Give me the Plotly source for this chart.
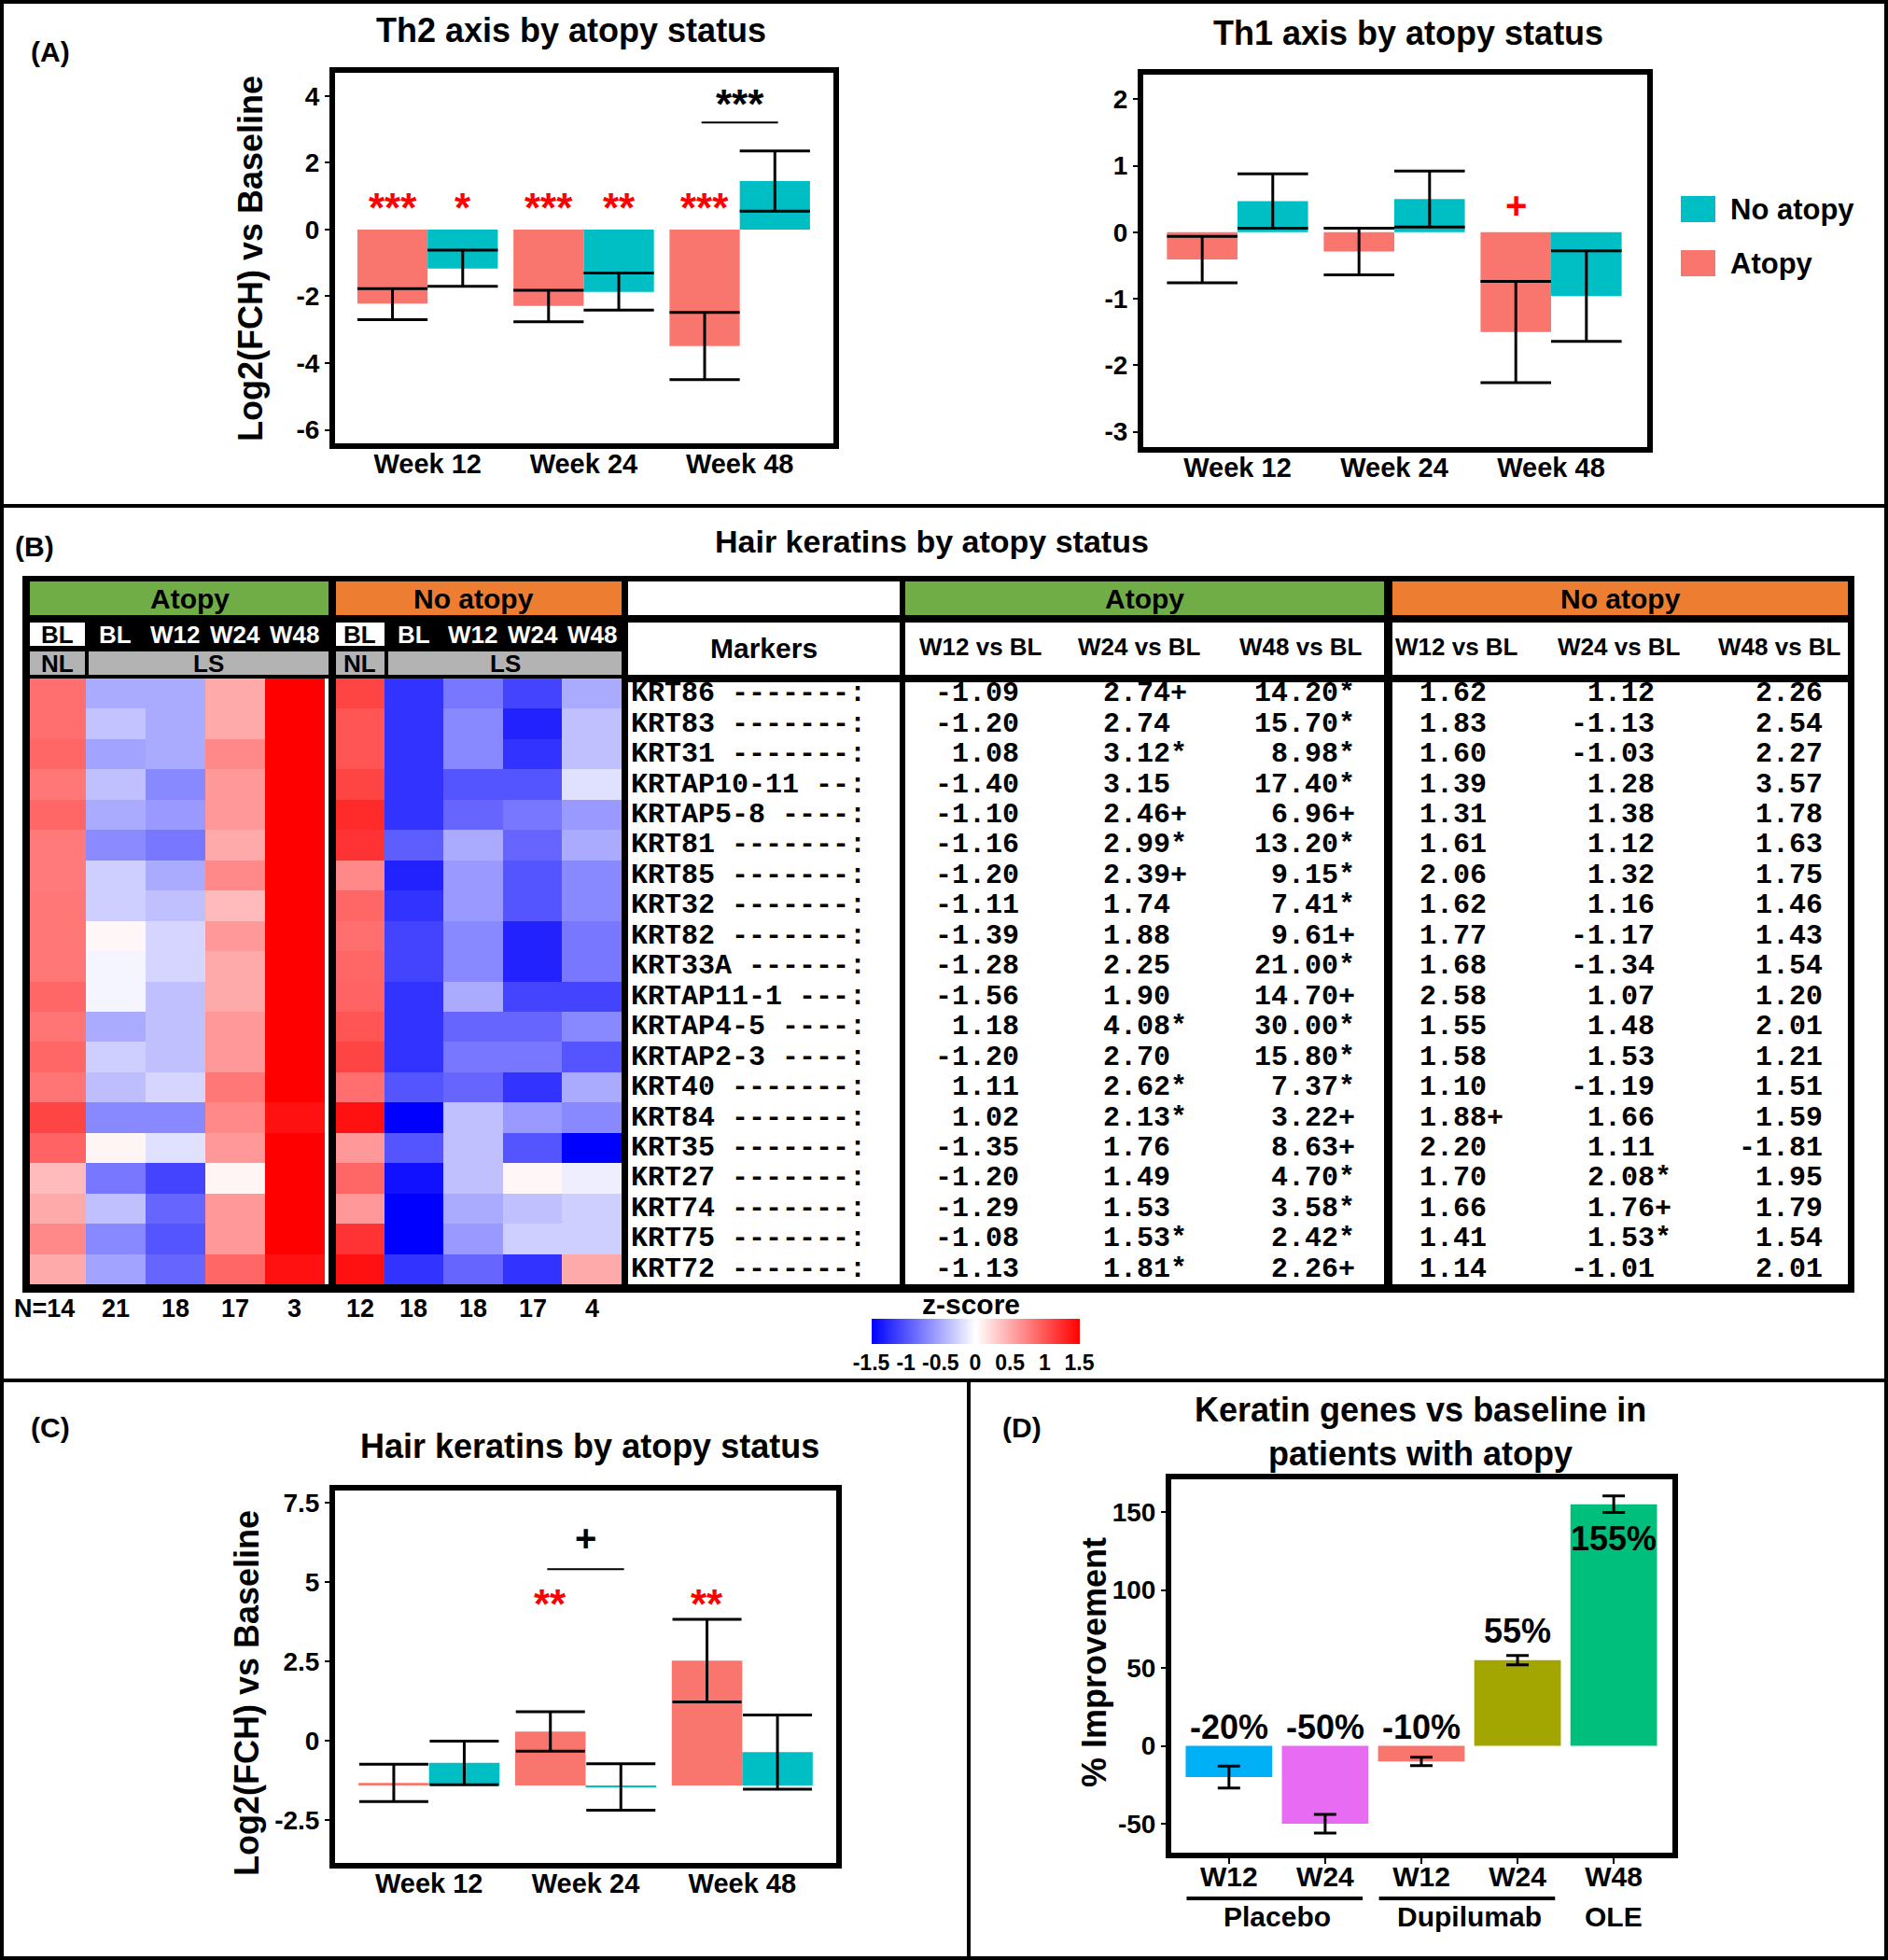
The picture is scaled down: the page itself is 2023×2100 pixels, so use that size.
import plotly.graph_objects as go

W, H = 2023, 2100
def PX(x): return x / W
def PY(y): return 1 - y / H
def dom_x(a, b): return [a / W, b / W]
def dom_y(top, bottom): return [1 - bottom / H, 1 - top / H]

FONT = "Liberation Sans, Arial, Helvetica, sans-serif"
NARROW = "Liberation Sans Narrow, Arial Narrow, Liberation Sans, Arial, sans-serif"
MONO = "Liberation Mono, Courier New, monospace"
SALMON, TEAL, RED = "#F8766D", "#00BFC4", "#FF0000"

# ---------------- data : panel A ----------------
weeks = ["Week 12", "Week 24", "Week 48"]
th2_atopy_bar = [-2.22, -2.29, -3.49]
th2_atopy_mid = [-1.77, -1.82, -2.48]
th2_atopy_cap = [-2.70, -2.76, -4.49]
th2_noat_bar = [-1.17, -1.87, 1.45]
th2_noat_mid = [-0.62, -1.30, 0.55]
th2_noat_cap = [-1.70, -2.41, 2.35]
th2_atopy_sig = ["***", "***", "***"]
th2_noat_sig = ["*", "**", ""]

th1_atopy_bar = [-0.41, -0.29, -1.50]
th1_atopy_mid = [-0.06, 0.06, -0.74]
th1_atopy_cap = [-0.76, -0.64, -2.26]
th1_noat_bar = [0.47, 0.50, -0.96]
th1_noat_mid = [0.06, 0.08, -0.28]
th1_noat_cap = [0.88, 0.92, -1.64]
th1_atopy_sig = ["", "", "+"]

# ---------------- data : panel B ----------------
genes = ["KRT86", "KRT83", "KRT31", "KRTAP10-11", "KRTAP5-8", "KRT81", "KRT85", "KRT32",
         "KRT82", "KRT33A", "KRTAP11-1", "KRTAP4-5", "KRTAP2-3", "KRT40", "KRT84", "KRT35",
         "KRT27", "KRT74", "KRT75", "KRT72"]
hm_cols = ["BL", "BL", "W12", "W24", "W48"]
n_atopy = [14, 21, 18, 17, 3]
n_noat = [12, 18, 18, 17, 4]

atopy_NL = [0.85, 0.85, 0.9, 0.8, 0.9, 0.78, 0.78, 0.8, 0.8, 0.8, 0.9, 0.82, 0.9, 0.82, 1.1, 0.92, 0.4, 0.5, 0.7, 0.5]
atopy_BL = [-0.5, -0.35, -0.55, -0.37, -0.5, -0.68, -0.28, -0.28, 0.05, -0.06, -0.06, -0.5, -0.28, -0.38, -0.7, 0.06, -0.8, -0.37, -0.7, -0.55]
atopy_W12 = [-0.5, -0.5, -0.5, -0.7, -0.6, -0.8, -0.5, -0.37, -0.25, -0.25, -0.37, -0.37, -0.37, -0.25, -0.7, -0.18, -1.1, -0.9, -1.0, -0.9]
atopy_W24 = [0.5, 0.5, 0.7, 0.6, 0.6, 0.5, 0.7, 0.4, 0.6, 0.5, 0.5, 0.6, 0.6, 0.8, 0.7, 0.6, 0.06, 0.6, 0.6, 0.9]
atopy_W48 = [1.5, 1.5, 1.5, 1.5, 1.5, 1.5, 1.5, 1.5, 1.5, 1.5, 1.5, 1.5, 1.5, 1.5, 1.4, 1.5, 1.5, 1.5, 1.5, 1.4]

noat_NL = [1.1, 1.0, 1.0, 1.1, 1.25, 1.2, 0.7, 0.9, 0.85, 0.9, 0.92, 1.0, 1.1, 0.85, 1.4, 0.6, 0.9, 0.6, 1.2, 1.4]
noat_BL = [-1.2, -1.2, -1.2, -1.2, -1.2, -0.95, -1.3, -1.2, -1.1, -1.1, -1.2, -1.2, -1.2, -1.0, -1.5, -1.0, -1.4, -1.5, -1.5, -1.2]
noat_W12 = [-0.8, -0.7, -0.7, -1.0, -0.9, -0.5, -0.6, -0.6, -0.7, -0.7, -0.5, -0.9, -0.8, -0.9, -0.37, -0.37, -0.37, -0.5, -0.6, -0.9]
noat_W24 = [-1.1, -1.3, -1.2, -1.0, -0.8, -0.9, -1.0, -1.0, -1.3, -1.3, -1.1, -0.9, -0.8, -1.2, -0.6, -1.0, 0.05, -0.37, -0.28, -1.2]
noat_W48 = [-0.5, -0.37, -0.37, -0.18, -0.6, -0.5, -0.7, -0.7, -0.8, -0.8, -1.1, -0.7, -1.0, -0.5, -0.7, -1.5, -0.1, -0.28, -0.28, 0.5]

tab_atopy_w12 = [-1.09, -1.20, 1.08, -1.40, -1.10, -1.16, -1.20, -1.11, -1.39, -1.28, -1.56, 1.18, -1.20, 1.11, 1.02, -1.35, -1.20, -1.29, -1.08, -1.13]
tab_atopy_w12_sig = [""] * 20
tab_atopy_w24 = [2.74, 2.74, 3.12, 3.15, 2.46, 2.99, 2.39, 1.74, 1.88, 2.25, 1.90, 4.08, 2.70, 2.62, 2.13, 1.76, 1.49, 1.53, 1.53, 1.81]
tab_atopy_w24_sig = ["+", "", "*", "", "+", "*", "+", "", "", "", "", "*", "", "*", "*", "", "", "", "*", "*"]
tab_atopy_w48 = [14.20, 15.70, 8.98, 17.40, 6.96, 13.20, 9.15, 7.41, 9.61, 21.00, 14.70, 30.00, 15.80, 7.37, 3.22, 8.63, 4.70, 3.58, 2.42, 2.26]
tab_atopy_w48_sig = ["*", "*", "*", "*", "+", "*", "*", "*", "+", "*", "+", "*", "*", "*", "+", "+", "*", "*", "*", "+"]
tab_noat_w12 = [1.62, 1.83, 1.60, 1.39, 1.31, 1.61, 2.06, 1.62, 1.77, 1.68, 2.58, 1.55, 1.58, 1.10, 1.88, 2.20, 1.70, 1.66, 1.41, 1.14]
tab_noat_w12_sig = ["", "", "", "", "", "", "", "", "", "", "", "", "", "", "+", "", "", "", "", ""]
tab_noat_w24 = [1.12, -1.13, -1.03, 1.28, 1.38, 1.12, 1.32, 1.16, -1.17, -1.34, 1.07, 1.48, 1.53, -1.19, 1.66, 1.11, 2.08, 1.76, 1.53, -1.01]
tab_noat_w24_sig = ["", "", "", "", "", "", "", "", "", "", "", "", "", "", "", "", "*", "+", "*", ""]
tab_noat_w48 = [2.26, 2.54, 2.27, 3.57, 1.78, 1.63, 1.75, 1.46, 1.43, 1.54, 1.20, 2.01, 1.21, 1.51, 1.59, -1.81, 1.95, 1.79, 1.54, 2.01]
tab_noat_w48_sig = [""] * 20
tab_headers = ["W12 vs BL", "W24 vs BL", "W48 vs BL"]
cbar_ticks = [-1.5, -1, -0.5, 0, 0.5, 1, 1.5]
cbar_ticktext = ["-1.5", "-1", "-0.5", "0", "0.5", "1", "1.5"]

# ---------------- data : panel C ----------------
c_atopy = [-1.32, 0.30, 2.53]
c_atopy_err = [0.59, 0.62, 1.30]
c_noat = [-0.69, -1.45, -0.35]
c_noat_err = [0.69, 0.73, 1.17]
c_atopy_sig = ["", "**", "**"]
C_BASE = -1.40

# ---------------- data : panel D ----------------
d_labels = ["W12", "W24", "W12", "W24", "W48"]
d_vals = [-20, -50, -10, 55, 155]
d_err = [7, 6, 2.7, 3, 5.3]
d_colors = ["#00B0F6", "#E76BF3", "#F8766D", "#A3A500", "#00BF7D"]
d_groups = ["Placebo", "Dupilumab", "OLE"]
d_group_members = [[0, 1], [2, 3], [4]]

# ---------------- figure ----------------
fig = go.Figure()
ann = []
shapes = []

def text(x, y, s, size, color="black", xanchor="center", yanchor="middle", family=FONT,
         bold=True, angle=0, xref="paper", yref="paper", yshift=0):
    if xref == "paper":
        x = PX(x)
    if yref == "paper":
        y = PY(y)
    ann.append(dict(x=x, y=y, xref=xref, yref=yref, text=s, showarrow=False,
                    xanchor=xanchor, yanchor=yanchor, textangle=angle, yshift=yshift,
                    font=dict(family=family, size=size, color=color,
                              weight="bold" if bold else "normal")))

def rect(x0, y0, x1, y1, fill, layer="below"):
    shapes.append(dict(type="rect", xref="paper", yref="paper", x0=PX(x0), x1=PX(x1),
                       y0=PY(y0), y1=PY(y1), fillcolor=fill, line=dict(width=0), layer=layer))

def pline(x0, y0, x1, y1, width=4):
    shapes.append(dict(type="line", xref="paper", yref="paper", x0=PX(x0), x1=PX(x1),
                       y0=PY(y0), y1=PY(y1), line=dict(color="black", width=width), layer="above"))

def whisker(xs_c, mids, caps, hw):
    xs, ys = [], []
    for c, m, k in zip(xs_c, mids, caps):
        xs += [c - hw, c + hw, None, c, c, None, c - hw, c + hw, None]
        ys += [m, m, None, m, k, None, k, k, None]
    return xs, ys

OFF, BW = 0.225, 0.45
xa = [i - OFF for i in range(3)]
xn = [i + OFF for i in range(3)]

# ---- panel A ----
def panel_a(xr, yr, abar, amid, acap, nbar, nmid, ncap):
    fig.add_bar(x=xa, y=abar, width=BW, marker=dict(color=SALMON, line=dict(width=0)),
                xaxis=xr, yaxis=yr, showlegend=False, hoverinfo="skip")
    fig.add_bar(x=xn, y=nbar, width=BW, marker=dict(color=TEAL, line=dict(width=0)),
                xaxis=xr, yaxis=yr, showlegend=False, hoverinfo="skip")
    wx, wy = whisker(xa + xn, amid + nmid, acap + ncap, BW / 2)
    fig.add_scatter(x=wx, y=wy, mode="lines", line=dict(color="black", width=3),
                    xaxis=xr, yaxis=yr, showlegend=False, hoverinfo="skip")

panel_a("x", "y", th2_atopy_bar, th2_atopy_mid, th2_atopy_cap, th2_noat_bar, th2_noat_mid, th2_noat_cap)
panel_a("x2", "y2", th1_atopy_bar, th1_atopy_mid, th1_atopy_cap, th1_noat_bar, th1_noat_mid, th1_noat_cap)

for i in range(3):
    if th2_atopy_sig[i]:
        text(xa[i], 0.78, th2_atopy_sig[i], 44, RED, xref="x", yref="y", yshift=-5)
    if th2_noat_sig[i]:
        text(xn[i], 0.78, th2_noat_sig[i], 44, RED, xref="x", yref="y", yshift=-5)
    if th1_atopy_sig[i]:
        text(xa[i], 0.40, th1_atopy_sig[i], 40, RED, xref="x2", yref="y2")
shapes.append(dict(type="line", xref="x", yref="y", x0=2 - 0.245, x1=2 + 0.245, y0=3.2, y1=3.2,
                   line=dict(color="black", width=2)))
text(2, 3.88, "***", 44, "black", xref="x", yref="y", yshift=-4)

text(612, 32, "Th2 axis by atopy status", 36)
text(1509, 36, "Th1 axis by atopy status", 36)
text(54, 56, "(A)", 30)
text(268, 277, "Log2(FCH) vs Baseline", 36, angle=-90)
# legend
rect(1801, 210, 1838, 238, TEAL, layer="above")
rect(1801, 268, 1838, 296, SALMON, layer="above")
text(1852, 224, "No atopy", 31, xanchor="left")
text(1852, 282, "Atopy", 31, xanchor="left")

# ---- panel B ----
cscale = [[0, "rgb(0,0,255)"], [0.5, "rgb(255,255,255)"], [1, "rgb(255,0,0)"]]
atopy_edges = [0, 0.93, 1.93, 2.93, 3.93, 4.93]
noat_edges = [0, 0.81, 1.81, 2.81, 3.81, 4.81]
z_atopy = [list(r) for r in zip(atopy_NL, atopy_BL, atopy_W12, atopy_W24, atopy_W48)]
z_noat = [list(r) for r in zip(noat_NL, noat_BL, noat_W12, noat_W24, noat_W48)]
rows = list(range(len(genes)))

fig.add_heatmap(z=z_atopy, x=atopy_edges, y=rows, colorscale=cscale, zmin=-1.5, zmax=1.5,
                xaxis="x3", yaxis="y3", hoverinfo="skip",
                colorbar=dict(orientation="h", lenmode="pixels", len=223, thicknessmode="pixels",
                              thickness=27, x=PX(1045), xanchor="center", y=PY(1466),
                              yanchor="bottom", ypad=0, xpad=0, outlinewidth=0,
                              tickvals=cbar_ticks, ticktext=cbar_ticktext, ticks="", ticklen=0,
                              tickfont=dict(family=FONT, size=23, color="black", weight="bold")))
fig.add_heatmap(z=z_noat, x=noat_edges, y=rows, colorscale=cscale, zmin=-1.5, zmax=1.5,
                xaxis="x4", yaxis="y4", showscale=False, hoverinfo="skip")
text(1040, 1397, "z-score", 30)

HM_TOP, HM_BOT = 727, 1376
A_X0, A_X1 = 32, 348
N_X0, N_X1 = 360, 666

def col_centers(edges, x0, x1):
    s = (x1 - x0) / edges[-1]
    return [x0 + s * (edges[i] + edges[i + 1]) / 2 for i in range(len(edges) - 1)]

ca = col_centers(atopy_edges, A_X0, A_X1)
cn = col_centers(noat_edges, N_X0, N_X1)

# frame and header boxes
rect(24, 617, 1987, 1385, "black")
rect(348, HM_TOP, 352, HM_BOT, "white")
rect(32, 623, 352, 659, "#70AD47")
rect(360, 623, 666, 659, "#ED7D31")
rect(32, 667, 91, 692, "white")
rect(360, 667, 412, 692, "white")
rect(32, 698, 91, 723, "#B3B3B3")
rect(95, 698, 352, 723, "#B3B3B3")
rect(360, 698, 412, 723, "#B3B3B3")
rect(416, 698, 666, 723, "#B3B3B3")
# table boxes
rect(673, 623, 964, 659, "white")
rect(673, 667, 964, 723, "white")
rect(673, 731, 964, 1376, "white")
rect(970, 623, 1483, 659, "#70AD47")
rect(970, 667, 1483, 723, "white")
rect(970, 731, 1483, 1376, "white")
rect(1492, 623, 1980, 659, "#ED7D31")
rect(1492, 667, 1980, 723, "white")
rect(1492, 731, 1980, 1376, "white")

text(37, 585, "(B)", 30)
text(998, 580, "Hair keratins by atopy status", 34)
text(203, 641, "Atopy", 30)
text(507, 641, "No atopy", 30)
for i, lab in enumerate(hm_cols):
    text(ca[i], 680, lab, 26, "black" if i == 0 else "white")
    text(cn[i], 680, lab, 26, "black" if i == 0 else "white")
text(ca[0], 711, "NL", 26)
text(cn[0], 711, "NL", 26)
text((95 + 352) / 2, 711, "LS", 26)
text((416 + 666) / 2, 711, "LS", 26)
for i in range(5):
    if i == 0:
        text(ca[i] + 20, 1402, "N=" + str(n_atopy[i]), 27, xanchor="right")
    else:
        text(ca[i], 1402, str(n_atopy[i]), 27)
    text(cn[i], 1402, str(n_noat[i]), 27)

text(818, 695, "Markers", 30)
text((970 + 1483) / 2, 641, "Atopy", 30)
text((1492 + 1980) / 2, 641, "No atopy", 30)
for xh, lab in zip([1051, 1221, 1394, 1561, 1735, 1907], tab_headers * 2):
    text(xh, 693, lab, 26)

NBSP = "\u00a0"
TFS = 30
for i, g in enumerate(genes):
    s = g + " " + "-" * (12 - len(g)) + ":"
    text(674, i, s, TFS, xanchor="left", family=MONO, xref="paper", yref="y3")
cols = [(1112, tab_atopy_w12, tab_atopy_w12_sig), (1274, tab_atopy_w24, tab_atopy_w24_sig),
        (1454, tab_atopy_w48, tab_atopy_w48_sig), (1613, tab_noat_w12, tab_noat_w12_sig),
        (1793, tab_noat_w24, tab_noat_w24_sig), (1973, tab_noat_w48, tab_noat_w48_sig)]
for xr_, vals, sigs in cols:
    for i, (v, sg) in enumerate(zip(vals, sigs)):
        text(xr_, i, f"{v:.2f}" + (sg if sg else NBSP), TFS, xanchor="right", family=MONO,
             yref="y3")

# ---- panel C ----
fig.add_bar(x=xa, y=[v - C_BASE for v in c_atopy], base=C_BASE, width=BW,
            marker=dict(color=SALMON, line=dict(width=0)),
            error_y=dict(type="data", array=c_atopy_err, color="black", thickness=3, width=37),
            xaxis="x5", yaxis="y5", showlegend=False, hoverinfo="skip")
fig.add_bar(x=xn, y=[v - C_BASE for v in c_noat], base=C_BASE, width=BW,
            marker=dict(color=TEAL, line=dict(width=0)),
            error_y=dict(type="data", array=c_noat_err, color="black", thickness=3, width=37),
            xaxis="x5", yaxis="y5", showlegend=False, hoverinfo="skip")
for i in range(3):
    if c_atopy_sig[i]:
        text(xa[i], 4.66, c_atopy_sig[i], 44, RED, xref="x5", yref="y5", yshift=-12)
shapes.append(dict(type="line", xref="x5", yref="y5", x0=1 - 0.245, x1=1 + 0.245, y0=5.41, y1=5.41,
                   line=dict(color="black", width=2)))
text(1, 6.38, "+", 40, "black", xref="x5", yref="y5")
text(54, 1529, "(C)", 30)
text(632, 1549, "Hair keratins by atopy status", 36)
text(264, 1814, "Log2(FCH) vs Baseline", 36, angle=-90)

# ---- panel D ----
dx = list(range(len(d_vals)))
fig.add_bar(x=dx, y=d_vals, width=0.9, marker=dict(color=d_colors, line=dict(width=0)),
            error_y=dict(type="data", array=d_err, color="black", thickness=3, width=12),
            xaxis="x6", yaxis="y6", showlegend=False, hoverinfo="skip")
for i, v in enumerate(d_vals):
    lab = f"{v}%"
    if v < 0:
        text(i, 0, lab, 36, xref="x6", yref="y6", yanchor="bottom", yshift=-2)
    elif v < 120:
        text(i, v, lab, 36, xref="x6", yref="y6", yanchor="bottom", yshift=9)
    else:
        text(i, v, lab, 36, xref="x6", yref="y6", yanchor="top", yshift=-14)
for g, mem in zip(d_groups, d_group_members):
    text(sum(mem) / len(mem), 2053, g, 30, xref="x6")
    if len(mem) > 1:
        shapes.append(dict(type="line", xref="x6", yref="paper", x0=mem[0] - 0.44, x1=mem[-1] + 0.39,
                           y0=PY(2034), y1=PY(2034), line=dict(color="black", width=4)))
text(1095, 1529, "(D)", 30)
text(1522, 1534, "Keratin genes vs baseline in<br>patients with atopy", 36)
text(1172, 1781, "% Improvement", 36, angle=-90)

# ---- panel borders ----
shapes.append(dict(type="rect", xref="paper", yref="paper", x0=0, x1=1, y0=0, y1=1,
                   line=dict(color="black", width=8), layer="above"))
pline(0, 542, W, 542, 4)
pline(0, 1479, W, 1479, 4)
pline(1038, 1479, 1038, H, 4)

# ---------------- axes ----------------
def yax(domain, rng, tickvals, anchor, size=28):
    return dict(domain=domain, range=rng, tickvals=tickvals,
                ticktext=[("%g" % v) for v in tickvals],
                showgrid=False, zeroline=False, showline=True, mirror=True, linewidth=6,
                linecolor="black", ticks="outside", ticklen=5, tickwidth=2, tickcolor="black",
                tickfont=dict(family=NARROW, size=size, color="black", weight="bold"),
                anchor=anchor, fixedrange=True)

def xax(domain, rng, tickvals, ticktext, anchor, size=29, ticks="", standoff=-9):
    return dict(domain=domain, range=rng, tickvals=tickvals, ticktext=ticktext,
                showgrid=False, zeroline=False, showline=True, mirror=True, linewidth=6,
                linecolor="black", ticks=ticks, ticklen=6, tickwidth=2, tickcolor="black",
                ticklabelstandoff=standoff,
                tickfont=dict(family=FONT, size=size, color="black", weight="bold"),
                anchor=anchor, fixedrange=True)

hidden = dict(visible=False, showgrid=False, zeroline=False, fixedrange=True)

fig.update_layout(
    width=W, height=H, margin=dict(l=0, r=0, t=0, b=0, autoexpand=False),
    paper_bgcolor="white", plot_bgcolor="rgba(0,0,0,0)", barmode="overlay",
    showlegend=False, font=dict(family=FONT, color="black"),
    xaxis=xax(dom_x(359, 893), [-0.593, 2.6], [0, 1, 2], weeks, "y"),
    yaxis=yax(dom_y(78, 475), [-6.40, 4.69], [4, 2, 0, -2, -4, -6], "x"),
    xaxis2=xax(dom_x(1225, 1765), [-0.601, 2.613], [0, 1, 2], weeks, "y2"),
    yaxis2=yax(dom_y(80, 479), [-3.23, 2.37], [2, 1, 0, -1, -2, -3], "x2"),
    xaxis3=dict(hidden, domain=dom_x(A_X0, A_X1), range=[0, atopy_edges[-1]], anchor="y3"),
    yaxis3=dict(hidden, domain=dom_y(HM_TOP, HM_BOT), range=[len(genes) - 0.5, -0.5], anchor="x3"),
    xaxis4=dict(hidden, domain=dom_x(N_X0, N_X1), range=[0, noat_edges[-1]], anchor="y4"),
    yaxis4=dict(hidden, domain=dom_y(HM_TOP, HM_BOT), range=[len(genes) - 0.5, -0.5], anchor="x4"),
    xaxis5=xax(dom_x(359, 896), [-0.6, 2.6], [0, 1, 2], weeks, "y5"),
    yaxis5=yax(dom_y(1597, 1996), [-3.84, 7.89], [7.5, 5, 2.5, 0, -2.5], "x5"),
    xaxis6=xax(dom_x(1255, 1792), [-0.6, 4.61], dx, d_labels, "y6", size=30, ticks="outside",
               standoff=-12),
    yaxis6=yax(dom_y(1585, 1985), [-68.5, 171], [150, 100, 50, 0, -50], "x6"),
    annotations=ann, shapes=shapes,
)

fig.write_html("out.html", config={"displayModeBar": False},
               post_script="document.body.style.margin='0px';document.body.style.overflow='hidden';")
